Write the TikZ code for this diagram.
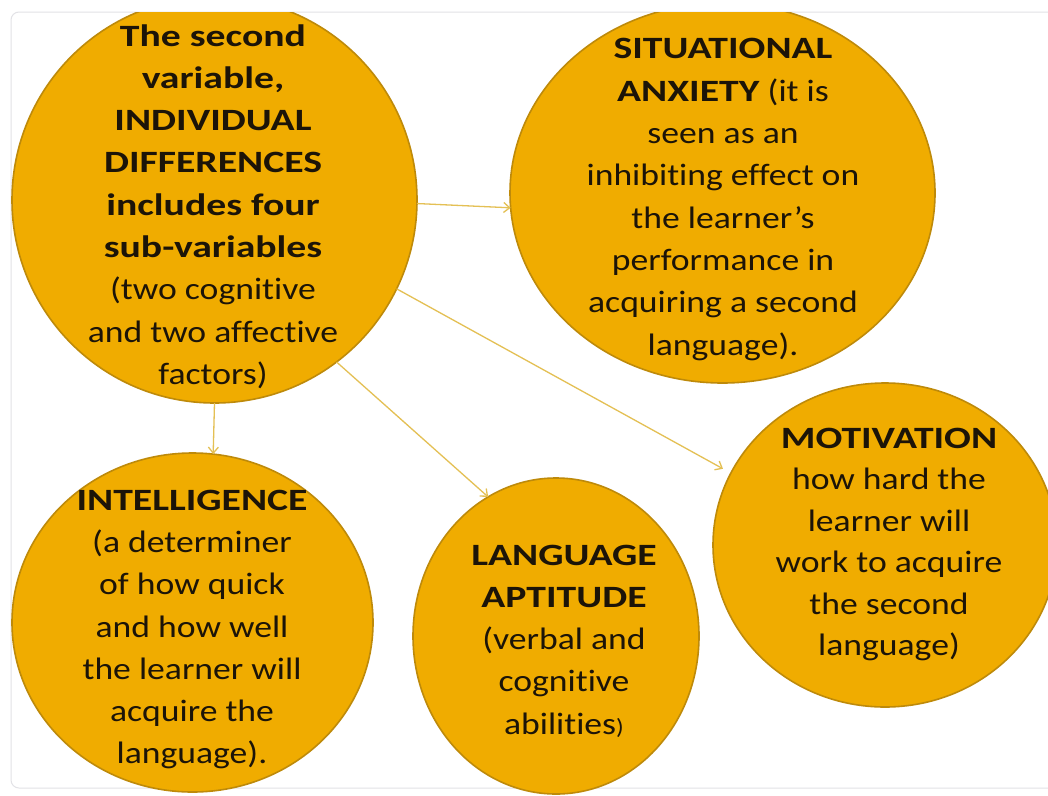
\documentclass[tikz,border=0pt]{standalone}
\usepackage{fontspec}
\setmainfont{Carlito}[FakeStretch=1.15, Ligatures=NoCommon,
  BoldFeatures={FakeStretch=1.28}]
\usetikzlibrary{shapes.geometric,arrows.meta}
\definecolor{discfill}{RGB}{240,172,0}
\definecolor{discline}{RGB}{190,138,10}
\definecolor{linkline}{RGB}{228,192,84}
\definecolor{inktext}{RGB}{28,20,8}
\definecolor{framegray}{RGB}{226,226,230}

\begin{document}
\begin{tikzpicture}[x=1pt,y=-1pt,
  disc/.style={ellipse, fill=discfill, draw=discline, line width=1.6pt,
    inner sep=0pt, outer sep=0pt},
  caption/.style={align=center, text=inktext, inner sep=0pt,
    font=\fontsize{31}{42.3}\selectfont},
  link/.style={draw=linkline, line width=1.3pt,
    -{Straight Barb[length=6pt,width=10pt]}}
]
\useasboundingbox (0,0) rectangle (1048,795);
\fill[white] (0,0) rectangle (1048,795);
% slide frame
\draw[framegray, line width=1pt, rounded corners=8pt] (11,12) rectangle (1070,788);

% discs, cut off by the top of the slide
\begin{scope}
  \clip (11,12) rectangle (1048,800);
  \node[disc, minimum width=405pt, minimum height=406pt] (main) at (214.5,200) {};
  \node[disc, minimum width=425pt, minimum height=380pt] (sa)   at (722.5,193) {};
  \node[disc, minimum width=344pt, minimum height=324pt] (mot)  at (885,545) {};
  \node[disc, minimum width=286pt, minimum height=316pt] (la)   at (556,636) {};
  \node[disc, minimum width=361pt, minimum height=339pt] (int)  at (192.5,622.5) {};
\end{scope}

% connectors
\draw[link] (main.-1) -- (sa.184);
\draw[link, shorten >=9pt] (main.-26) -- (mot.155.5);
\draw[link] (main.-53.5) -- (la.116.4);
\draw[link] (main.-90.4) -- (int.83);

% texts
\node[caption] (maintxt) at (213,206.5) {\textbf{The second}\\ \textbf{variable,}\\
  \textbf{INDIVIDUAL}\\ \textbf{DIFFERENCES}\\ \textbf{includes four}\\
  \textbf{sub-variables}\\ (two cognitive\\ and two affective\\ factors)};
\node[caption] (satxt) at (723,199.5) {\textbf{SITUATIONAL}\\ \textbf{ANXIETY} (it is\\
  seen as an\\ inhibiting effect on\\ the learner’s\\ performance in\\
  acquiring a second\\ language).};
\node[caption, font=\fontsize{31}{41.4}\selectfont] (mottxt) at (889,544.5)
  {\textbf{MOTIVATION}\\ how hard the\\ learner will\\ work to acquire\\ the second\\ language)};
\node[caption] (latxt) at (564,641) {\textbf{LANGUAGE}\\ \textbf{APTITUDE}\\
  (verbal and\\ cognitive\\ abilities{\fontsize{22}{22}\selectfont)}};
\node[caption] (inttxt) at (192,629.5) {\textbf{INTELLIGENCE}\\ (a determiner\\
  of how quick\\ and how well\\ the learner will\\ acquire the\\ language).};
\end{tikzpicture}
\end{document}
